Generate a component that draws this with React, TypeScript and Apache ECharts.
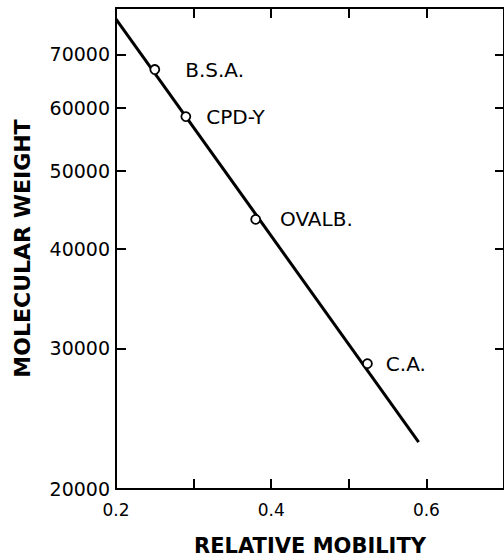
import React, { useEffect, useRef } from "react";
import * as echarts from "echarts";

// Marker proteins: relative mobility vs molecular weight
const proteins = ["B.S.A.", "CPD-Y", "OVALB.", "C.A."];
const mobility = [0.25, 0.29, 0.38, 0.524];
const molWeight = [67000, 58500, 43500, 28700];
const labelGap = [25, 15, 19, 13];

// Calibration line end points
const fitMobility = [0.2, 0.59];
const fitWeight = [77500, 22900];

// Axis ticks
const yTicks = [20000, 30000, 40000, 50000, 60000, 70000];
const xTickLabels = [0.2, 0.4, 0.6];

const FONT = "DejaVu Sans";

export default function App() {
  const ref = useRef<HTMLDivElement>(null);

  useEffect(() => {
    if (!ref.current) return;
    const chart = echarts.init(ref.current, null, { renderer: "svg" });

    const axisLine = { show: true, lineStyle: { color: "#000", width: 2 } };
    const tickStyle = { color: "#000", width: 2 };

    const yAxisBase = {
      type: "log" as const,
      logBase: 10,
      min: 20000,
      max: 80000,
      axisLine,
      splitLine: { show: false },
      minorTick: { show: false },
    };

    chart.setOption({
      animation: false,
      backgroundColor: "#fff",
      grid: {
        left: 116,
        right: 0,
        top: 8,
        bottom: 68,
        containLabel: false,
        outerBoundsMode: "none",
      },
      xAxis: [
        {
          type: "value",
          position: "bottom",
          min: 0.2,
          max: 0.7,
          interval: 0.1,
          axisLine,
          axisTick: { show: true, inside: true, length: 10, lineStyle: tickStyle },
          splitLine: { show: false },
          axisLabel: {
            show: true,
            margin: 12,
            showMinLabel: true,
            hideOverlap: false,
            color: "#000",
            fontFamily: FONT,
            fontSize: 17,
            formatter: (v: number) =>
              xTickLabels.some((t) => Math.abs(t - v) < 1e-6) ? v.toFixed(1) : "",
          },
          name: "RELATIVE MOBILITY",
          nameLocation: "middle",
          nameGap: 46,
          nameTextStyle: { color: "#000", fontFamily: FONT, fontSize: 21, fontWeight: "bold" },
        },
        {
          type: "value",
          position: "top",
          min: 0.2,
          max: 0.7,
          interval: 0.1,
          axisLine,
          axisTick: { show: true, inside: true, length: 10, lineStyle: tickStyle },
          splitLine: { show: false },
          axisLabel: { show: false },
        },
      ],
      yAxis: [
        {
          ...yAxisBase,
          position: "left",
          axisTick: {
            show: true,
            inside: true,
            length: 10,
            lineStyle: tickStyle,
            customValues: yTicks,
          },
          axisLabel: {
            show: true,
            margin: 6,
            showMinLabel: true,
            hideOverlap: false,
            color: "#000",
            fontFamily: FONT,
            fontSize: 19,
            customValues: yTicks,
            formatter: (v: number) => String(Math.round(v)),
          },
          name: "MOLECULAR WEIGHT",
          nameLocation: "middle",
          nameGap: 83,
          nameTextStyle: { color: "#000", fontFamily: FONT, fontSize: 22, fontWeight: "bold" },
        },
        {
          ...yAxisBase,
          position: "right",
          axisTick: {
            show: true,
            inside: true,
            length: 9,
            lineStyle: tickStyle,
            customValues: yTicks,
          },
          axisLabel: { show: false, customValues: yTicks },
        },
      ],
      series: [
        {
          type: "line",
          data: fitMobility.map((x, i) => [x, fitWeight[i]]),
          showSymbol: false,
          symbol: "none",
          lineStyle: { color: "#000", width: 3 },
          z: 2,
        },
        {
          type: "scatter",
          data: mobility.map((x, i) => ({
            value: [x, molWeight[i]],
            name: proteins[i],
            label: { distance: labelGap[i] },
          })),
          symbol: "circle",
          symbolSize: 9,
          itemStyle: { color: "#fff", borderColor: "#000", borderWidth: 1.8, opacity: 1 },
          label: {
            show: true,
            position: "right",
            formatter: (p: any) => p.name,
            color: "#000",
            opacity: 1,
            textBorderWidth: 0,
            fontFamily: FONT,
            fontSize: 20,
          },
          emphasis: { disabled: true },
          z: 3,
        },
      ],
    });

    return () => chart.dispose();
  }, []);

  return <div ref={ref} style={{ width: 504, height: 557, position: "absolute", left: 0, top: 0 }} />;
}
